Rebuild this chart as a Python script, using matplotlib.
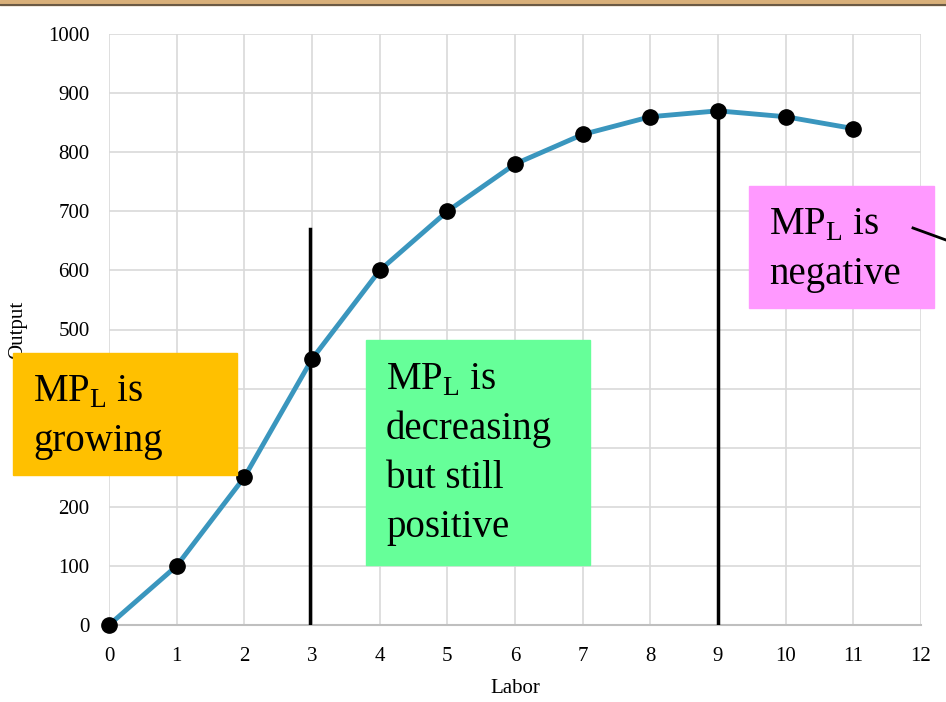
import matplotlib
matplotlib.use('Agg')
import matplotlib.pyplot as plt
from matplotlib.patches import Rectangle
from matplotlib.lines import Line2D

plt.rcParams['font.family'] = ['Liberation Serif', 'DejaVu Serif']
plt.rcParams['mathtext.fontset'] = 'custom'
plt.rcParams['mathtext.rm'] = 'Liberation Serif'

labor = [0, 1, 2, 3, 4, 5, 6, 7, 8, 9, 10, 11]
output = [0, 100, 250, 450, 600, 700, 780, 830, 860, 870, 860, 840]
x_ticks = list(range(0, 13))
y_ticks = list(range(0, 1001, 100))

fig = plt.figure(figsize=(9.46, 7.02), dpi=100)
ax = fig.add_axes([109/946, 1 - 625/702, (921-109)/946, (625-34)/702])

ax.plot(labor, output, color='#3a96be', lw=3.5, zorder=3, clip_on=False)
ax.plot(labor, output, 'o', color='black', ms=11, zorder=4, clip_on=False)

# divider lines
ax.plot([2.97, 2.97], [0, 670], color='black', lw=2.5, zorder=5)
ax.plot([9, 9], [0, 870], color='black', lw=2.5, zorder=5)

ax.set_xlim(0, 12)
ax.set_ylim(0, 1000)
ax.set_xticks(x_ticks)
ax.set_yticks(y_ticks)
ax.grid(True, color='#d9d9d9', lw=1.2)
for s in ['top', 'right', 'left']:
    ax.spines[s].set_visible(False)
ax.spines['bottom'].set_color('#bfbfbf')
ax.spines['bottom'].set_linewidth(1.5)
ax.tick_params(length=0, labelsize=15, pad=14)
ax.tick_params(axis='x', pad=16)
ax.set_xlabel('Labor', fontsize=15, labelpad=9)
ax.set_axisbelow(True)

fig.text(18/946, 1 - 330/702, 'Output', rotation=90, fontsize=15,
         ha='center', va='center')

# annotation boxes, one text per line, baselines 49 px apart
def box(x0, y0, x1, y1, color, first_base, lines):
    fig.patches.append(Rectangle((x0/946, 1 - y1/702), (x1-x0)/946, (y1-y0)/702,
                                 transform=fig.transFigure, color=color, zorder=10))
    for i, t in enumerate(lines):
        fig.text((x0 + 20)/946, 1 - (first_base + 49*i)/702, t, fontsize=28,
                 va='baseline', ha='left', zorder=11)

mpl_is = 'MP$_\\mathregular{L}$ is'
box(13, 353, 237, 475, '#ffc000', 402, [mpl_is, 'growing'])
box(366, 340, 590, 565, '#66ff99', 390, [mpl_is, 'decreasing', 'but still', 'positive'])
box(749, 186, 934, 308, '#ff99ff', 235, [mpl_is, 'negative'])
fig.lines.append(Line2D([913/946, 1], [1 - 228/702, 1 - 240/702],
                        transform=fig.transFigure, color='black', lw=2, zorder=12))

# top border band
fig.patches.append(Rectangle((0, 1 - 5/702), 1, 5/702, transform=fig.transFigure,
                             color='#d9b07a', zorder=10))
fig.lines.append(Line2D([0, 1], [1 - 5/702, 1 - 5/702], transform=fig.transFigure,
                        color='#6b5a45', lw=1.5, zorder=11))

fig.savefig('out.png', dpi=100)
